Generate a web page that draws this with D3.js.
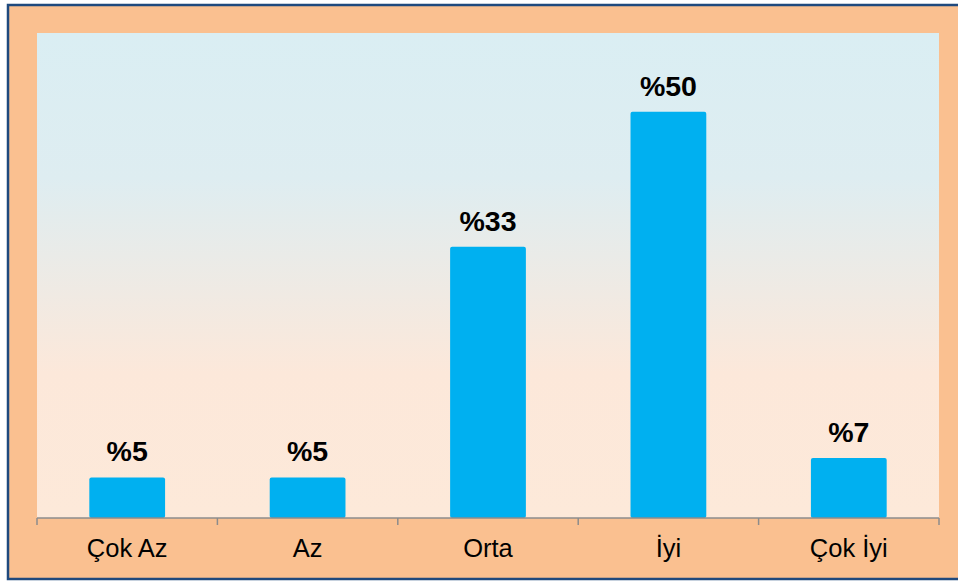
<!DOCTYPE html>
<html>
<head>
<meta charset="utf-8">
<script src="https://cdn.jsdelivr.net/npm/d3@7"></script>
<style>
  body { margin: 0; background: #fff; }
  svg { display: block; font-family: "Liberation Sans", Arial, sans-serif; }
</style>
</head>
<body>
<div id="chart"></div>
<script>
// categories and values
const categories = ["Çok Az", "Az", "Orta", "İyi", "Çok İyi"];
const values = [5, 5, 33.4, 50, 7.4];
const labels = ["%5", "%5", "%33", "%50", "%7"];
const yMax = 59.7;

const width = 958;
const height = 583;
const plot = { left: 37, top: 33, right: 939, bottom: 518 };

const svg = d3.select("#chart")
  .append("svg")
  .attr("width", width)
  .attr("height", height);

// background gradient for the plot area
const defs = svg.append("defs");
const grad = defs.append("linearGradient")
  .attr("id", "plotGrad")
  .attr("x1", 0).attr("y1", 0).attr("x2", 0).attr("y2", 1);
grad.append("stop").attr("offset", "0%").attr("stop-color", "#DAEEF3");
grad.append("stop").attr("offset", "30%").attr("stop-color", "#DEEDF1");
grad.append("stop").attr("offset", "70%").attr("stop-color", "#FCE8DA");
grad.append("stop").attr("offset", "100%").attr("stop-color", "#FDE9D9");

// outer frame
svg.append("rect")
  .attr("x", 8).attr("y", 5)
  .attr("width", width + 10).attr("height", 574)
  .attr("fill", "#FAC090")
  .attr("stroke", "#1F497D")
  .attr("stroke-width", 2.5);

svg.append("rect")
  .attr("x", plot.left).attr("y", plot.top)
  .attr("width", plot.right - plot.left)
  .attr("height", plot.bottom - plot.top)
  .attr("fill", "url(#plotGrad)");

// scales
const x = d3.scaleBand()
  .domain(categories)
  .range([plot.left, plot.right])
  .paddingInner(0.58)
  .paddingOuter(0.29);

const y = d3.scaleLinear()
  .domain([0, yMax])
  .range([plot.bottom, plot.top]);

const step = (plot.right - plot.left) / categories.length;

// bars
svg.selectAll(".bar")
  .data(values)
  .join("rect")
  .attr("class", "bar")
  .attr("x", (d, i) => x(categories[i]))
  .attr("y", d => y(d))
  .attr("width", x.bandwidth())
  .attr("height", d => y(0) - y(d))
  .attr("rx", 2)
  .attr("fill", "#00B0F0");

// value labels
svg.selectAll(".val")
  .data(values)
  .join("text")
  .attr("class", "val")
  .attr("x", (d, i) => x(categories[i]) + x.bandwidth() / 2)
  .attr("y", d => y(d) - 16)
  .attr("text-anchor", "middle")
  .attr("font-size", 28.5)
  .attr("font-weight", "bold")
  .attr("fill", "#000")
  .text((d, i) => labels[i]);

// x axis: ticks between categories
const axis = svg.append("g");
axis.append("line")
  .attr("x1", plot.left).attr("x2", plot.right)
  .attr("y1", plot.bottom).attr("y2", plot.bottom)
  .attr("stroke", "#8C8C8C").attr("stroke-width", 1.5);

axis.selectAll(".tick")
  .data(d3.range(categories.length + 1))
  .join("line")
  .attr("x1", i => plot.left + i * step)
  .attr("x2", i => plot.left + i * step)
  .attr("y1", plot.bottom)
  .attr("y2", plot.bottom + 7)
  .attr("stroke", "#8C8C8C").attr("stroke-width", 1.5);

axis.selectAll(".cat")
  .data(categories)
  .join("text")
  .attr("x", d => x(d) + x.bandwidth() / 2)
  .attr("y", 557)
  .attr("text-anchor", "middle")
  .attr("font-size", 25.5)
  .attr("fill", "#000")
  .text(d => d);
</script>
</body>
</html>
